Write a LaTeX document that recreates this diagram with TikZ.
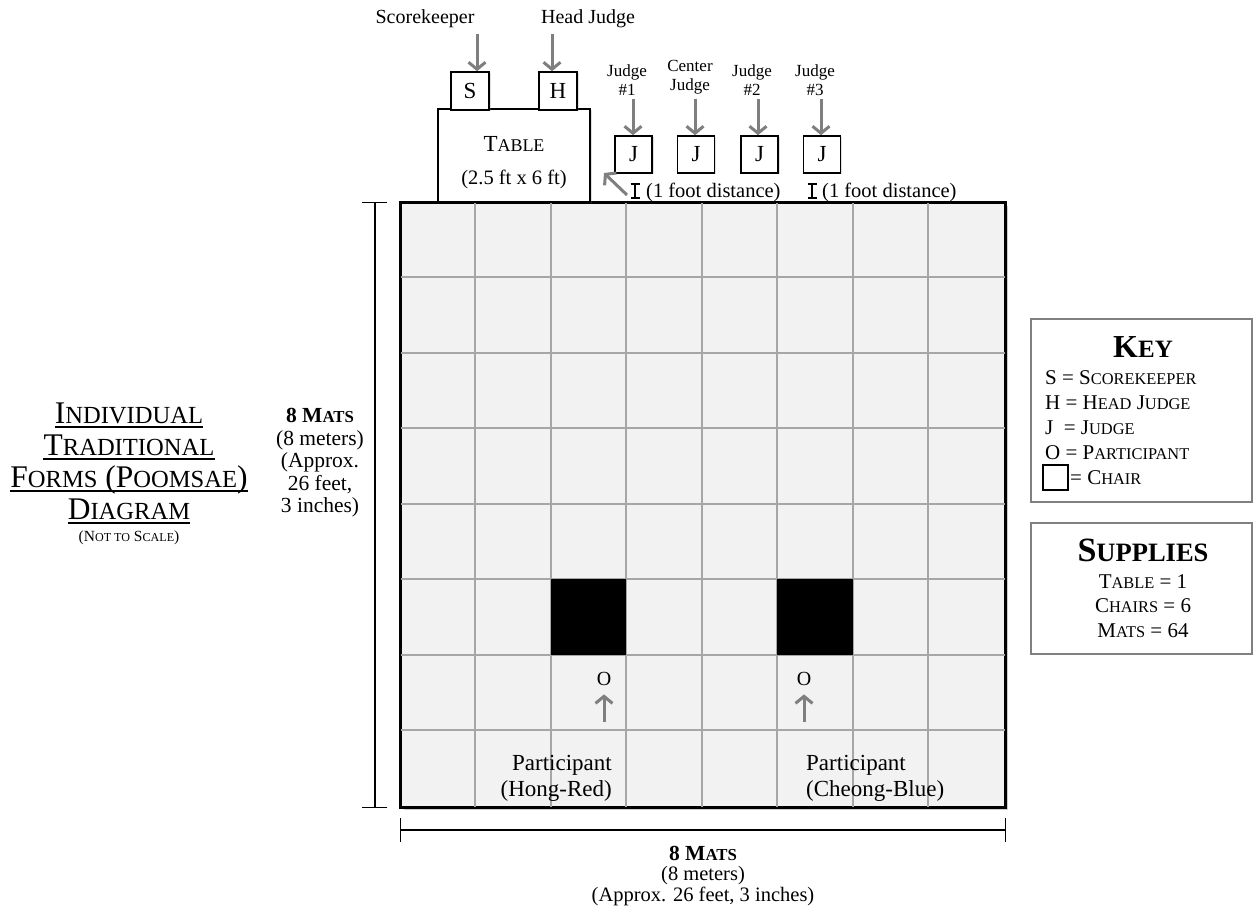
\documentclass[tikz,border=0pt]{standalone}
\usepackage{fontspec}
\setmainfont{Liberation Serif}
\usepackage{graphicx}
\usetikzlibrary{arrows.meta,shadows,calc}

\definecolor{matfill}{HTML}{F2F2F2}
\definecolor{matline}{HTML}{A6A6A6}
\definecolor{arrowgray}{HTML}{7F7F7F}
\definecolor{keyframe}{HTML}{808080}

% small capitals made from scaled capitals
\newcommand\smc[1]{\scalebox{0.78}{#1}}
\newcommand\fs[1]{\fontsize{#1}{#1}\selectfont}

\begin{document}
\begin{tikzpicture}[x=1pt,y=-1pt,
  lbl/.style={inner sep=0pt, anchor=base, text=black},
  chairbox/.style={draw=black, line width=1.6pt, fill=white, minimum size=#1,
    inner sep=0pt, drop shadow={opacity=0.25, shadow xshift=1.5pt, shadow yshift=-1.5pt}},
  chairbox/.default=38pt,
  garrow/.style={draw=arrowgray, line width=3pt, -{Straight Barb[length=7pt,width=17pt]}},
  dimline/.style={draw=black, line width=1.6pt},
  ibeam/.style={draw=black, line width=1.8pt, {Bar[width=9pt]}-{Bar[width=9pt]}},
  framebox/.style={draw=keyframe, line width=2pt, fill=white, anchor=north west, inner sep=0pt},
  judgelbl/.style={inner sep=0pt, anchor=north, align=center, font=\fontsize{17}{18.5}\selectfont},
  gridline/.style={draw=matline, line width=1.8pt}
]
\useasboundingbox (0,0) rectangle (1255,912);

% ---------- competition area: 8 x 8 mats ----------
\node[draw=black, line width=2.4pt, fill=matfill, minimum width=604pt, minimum height=604pt,
  inner sep=0pt, drop shadow={opacity=0.4, shadow xshift=3pt, shadow yshift=-3pt}]
  (mat) at (703,505) {};
\foreach \i in {1,...,7}{
  \draw[gridline] ($(mat.north west)+(\i*75.5,0)$) -- ($(mat.south west)+(\i*75.5,0)$);
  \draw[gridline] ($(mat.north west)+(0,\i*75.5)$) -- ($(mat.north east)+(0,\i*75.5)$);
}
% starting marks
\fill[black] ($(mat.north west)+(151,377.5)$) rectangle ($(mat.north west)+(226.5,453)$);
\fill[black] ($(mat.north west)+(377.5,377.5)$) rectangle ($(mat.north west)+(453,453)$);
\draw[black, line width=2.4pt] (mat.north west) rectangle (mat.south east);

% ---------- table with scorekeeper and head judge ----------
\node[draw=black, line width=1.6pt, fill=white, minimum width=152pt, minimum height=93pt,
  inner sep=0pt, drop shadow={opacity=0.25, shadow xshift=1.5pt, shadow yshift=-1.5pt}]
  (table) at (514,155.5) {};
\node[lbl] (tabletxt) at (514,151.4) {\fs{23}T\smc{ABLE}};
\node[lbl] (tabledim) at (514,184.5) {\fs{20.5}(2.5 ft x 6 ft)};

\node[chairbox] (sbox) at (470,91) {\fs{23}S};
\node[chairbox] (hbox) at (558,91) {\fs{23}H};

\node[lbl] (sklab) at (425,24) {\fs{20}Scorekeeper};
\node[lbl] (hjlab) at (588,24) {\fs{20}Head Judge};
\coordinate (skarr) at (477,34);
\coordinate (hjarr) at (552,34);
\draw[garrow] (skarr) -- (skarr |- sbox.north);
\draw[garrow] (hjarr) -- (hjarr |- hbox.north);

% ---------- judges ----------
\node[chairbox=37pt] (j1) at (633.5,154.5) {\fs{23}J};
\node[chairbox=37pt] (j2) at (696,154.5) {\fs{23}J};
\node[chairbox=37pt] (j3) at (759.5,154.5) {\fs{23}J};
\node[chairbox=37pt] (j4) at (822,154.5) {\fs{23}J};

\node[judgelbl] (j1lab) at (627,65) {Judge\\\#1};
\node[judgelbl] (j2lab) at (690,60.5) {Center\\Judge};
\node[judgelbl] (j3lab) at (752,65) {Judge\\\#2};
\node[judgelbl] (j4lab) at (815,65) {Judge\\\#3};

\coordinate (j1arr) at (633,99);
\coordinate (j2arr) at (695,99);
\coordinate (j3arr) at (758,99);
\coordinate (j4arr) at (821,99);
\draw[garrow] (j1arr) -- (j1arr |- j1.north);
\draw[garrow] (j2arr) -- (j2arr |- j2.north);
\draw[garrow] (j3arr) -- (j3arr |- j3.north);
\draw[garrow] (j4arr) -- (j4arr |- j4.north);

% distance marks between chairs and mats
\coordinate (diagtail) at (627,195);
\coordinate (diaghead) at (604,173);
\draw[garrow] (diagtail) -- (diaghead);
\coordinate (ib1t) at (635,183);
\coordinate (ib1b) at (635,199);
\coordinate (ib2t) at (812,183);
\coordinate (ib2b) at (812,199);
\draw[ibeam] (ib1t) -- (ib1b);
\draw[ibeam] (ib2t) -- (ib2b);
\node[lbl, anchor=base west] (fd1) at (646,197) {\fs{20.5}(1 foot distance)};
\node[lbl, anchor=base west] (fd2) at (822,197) {\fs{20.5}(1 foot distance)};

% ---------- participants ----------
\node[lbl] (oRed) at (604,685) {\fs{20}O};
\node[lbl] (oBlue) at (804,685) {\fs{20}O};
\coordinate (redtail) at (604,722);
\coordinate (bluetail) at (804,722);
\draw[garrow] (redtail) -- ([yshift=-9pt]oRed.south);
\draw[garrow] (bluetail) -- ([yshift=-9pt]oBlue.south);
\node[lbl, anchor=base east] (red1) at (612,770) {\fs{23}Participant};
\node[lbl, anchor=base east] (red2) at (612,796) {\fs{23}(Hong-Red)};
\node[lbl, anchor=base west] (blue1) at (806,770) {\fs{23}Participant};
\node[lbl, anchor=base west] (blue2) at (806,796) {\fs{23}(Cheong-Blue)};

% ---------- dimensions ----------
\coordinate (vdimtop) at ($(mat.north west)+(-25,0)$);
\coordinate (vdimbot) at ($(mat.south west)+(-25,0)$);
\draw[dimline, {Bar[width=25pt]}-{Bar[width=25pt]}] (vdimtop) -- (vdimbot);
\coordinate (hdiml) at ($(mat.south west)+(0,22)$);
\coordinate (hdimr) at ($(mat.south east)+(0,22)$);
\draw[dimline, {Bar[width=24pt]}-{Bar[width=24pt]}] (hdiml) -- (hdimr);

\node[lbl] (vd1) at (320,422) {\fs{21.5}\bfseries 8 M\smc{ATS}};
\node[lbl] (vd2) at (320,445) {\fs{21.5}(8 meters)};
\node[lbl] (vd3) at (320,467.5) {\fs{21.5}(Approx.};
\node[lbl] (vd4) at (320,490) {\fs{21.5}26 feet,};
\node[lbl] (vd5) at (320,512.5) {\fs{21.5}3 inches)};

\node[lbl] (hd1) at (703,860) {\fs{21.5}\bfseries 8 M\smc{ATS}};
\node[lbl] (hd2) at (703,880.5) {\fs{20.5}(8 meters)};
\node[lbl] (hd3) at (703,901.5) {\fs{20.5}(Approx. 26 feet, 3 inches)};

% ---------- title ----------
\node[lbl] (t1) at (129,423.4) {\fs{31.5}I\smc{NDIVIDUAL}};
\node[lbl] (t2) at (129,455.4) {\fs{31.5}T\smc{RADITIONAL}};
\node[lbl] (t3) at (129,487.4) {\fs{31.5}F\smc{ORMS} (P\smc{OOMSAE})};
\node[lbl] (t4) at (129,519.4) {\fs{31.5}D\smc{IAGRAM}};
\node[lbl] (t5) at (129,541) {\fs{15.5}(N\smc{OT TO} S\smc{CALE})};
\foreach \t in {t1,t2,t3,t4}{
  \draw[black, line width=1.3pt] ([yshift=-3.5pt]\t.base west) -- ([yshift=-3.5pt]\t.base east);
}

% ---------- key ----------
\node[framebox, minimum width=221pt, minimum height=183pt] (keybox) at (1030,318) {};
\node[lbl] (keyhead) at (1143,357.6) {\fs{32}\bfseries K\smc{EY}};
\node[lbl, anchor=base west] (keyS) at (1045,384.6) {\fs{21}S = S\smc{COREKEEPER}};
\node[lbl, anchor=base west] (keyH) at (1045,409.6) {\fs{21}H = H\smc{EAD} J\smc{UDGE}};
\node[lbl, anchor=base west] (keyJ) at (1045,434.6) {\fs{21}J \ = J\smc{UDGE}};
\node[lbl, anchor=base west] (keyO) at (1045,459.6) {\fs{21}O = P\smc{ARTICIPANT}};
\node[draw=black, line width=1.5pt, minimum size=25pt, inner sep=0pt, anchor=north west]
  (keychair) at (1042,464) {};
\node[lbl, anchor=base west] (keyC) at (1070,484.6) {\fs{21}= C\smc{HAIR}};

% ---------- supplies ----------
\node[framebox, minimum width=221pt, minimum height=131pt] (supbox) at (1030,522) {};
\node[lbl] (suphead) at (1143,561) {\fs{34}\bfseries S\smc{UPPLIES}};
\node[lbl] (sup1) at (1143,588) {\fs{21}T\smc{ABLE} = 1};
\node[lbl] (sup2) at (1143,612.5) {\fs{21}C\smc{HAIRS} = 6};
\node[lbl] (sup3) at (1143,637) {\fs{21}M\smc{ATS} = 64};
\end{tikzpicture}
\end{document}
